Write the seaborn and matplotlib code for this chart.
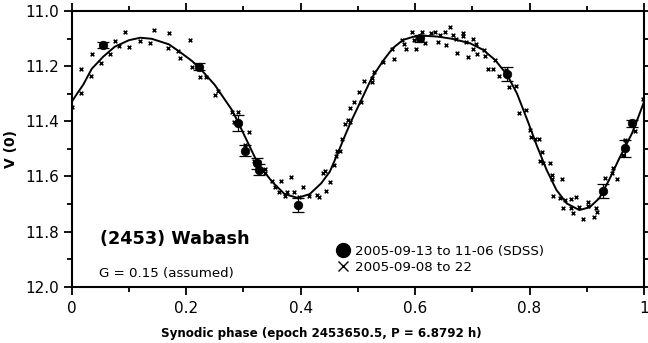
import matplotlib
matplotlib.use("Agg")
import matplotlib.pyplot as plt
from matplotlib.lines import Line2D
from matplotlib.ticker import MultipleLocator, FormatStrFormatter
import seaborn as sns
import pandas as pd

# Dense photometry, 2005-09-08 to 22 (phase, V)
phase_dense = [
    0.001, 0.017, 0.017, 0.034, 0.035, 0.051, 0.067, 0.076, 0.083, 0.094,
    0.101, 0.119, 0.136, 0.143, 0.170, 0.169, 0.185, 0.190, 0.207, 0.210,
    0.225, 0.235, 0.250, 0.256, 0.280, 0.291, 0.284, 0.303, 0.309, 0.319,
    0.328, 0.338, 0.337, 0.350, 0.365, 0.383, 0.356, 0.362, 0.372, 0.377,
    0.388, 0.398, 0.405, 0.414, 0.429, 0.433, 0.444, 0.451, 0.439, 0.442,
    0.458, 0.462, 0.469, 0.464, 0.472, 0.478, 0.487, 0.482, 0.487, 0.494,
    0.506, 0.502, 0.511, 0.524, 0.525, 0.528, 0.544, 0.564, 0.559, 0.578,
    0.580, 0.584, 0.595, 0.602, 0.599, 0.613, 0.617, 0.628, 0.634, 0.644,
    0.640, 0.652, 0.654, 0.661, 0.667, 0.672, 0.673, 0.683, 0.684, 0.689,
    0.692, 0.702, 0.702, 0.706, 0.709, 0.721, 0.722, 0.740, 0.728, 0.737,
    0.747, 0.759, 0.765, 0.776, 0.782, 0.794, 0.801, 0.803, 0.810, 0.816,
    0.822, 0.819, 0.823, 0.836, 0.839, 0.840, 0.856, 0.841, 0.853, 0.862,
    0.872, 0.882, 0.859, 0.872, 0.876, 0.887, 0.894, 0.903, 0.903, 0.913,
    0.916, 0.918, 0.932, 0.944, 0.945, 0.952, 0.964, 0.967, 0.985, 0.999,
]
v_dense = [
    11.347, 11.299, 11.211, 11.236, 11.157, 11.187, 11.156, 11.108, 11.128, 11.075,
    11.129, 11.108, 11.115, 11.069, 11.081, 11.135, 11.146, 11.169, 11.104, 11.203,
    11.238, 11.241, 11.305, 11.290, 11.368, 11.368, 11.404, 11.486, 11.438, 11.544,
    11.547, 11.573, 11.589, 11.617, 11.617, 11.601, 11.637, 11.655, 11.671, 11.655,
    11.658, 11.676, 11.637, 11.670, 11.667, 11.676, 11.652, 11.619, 11.589, 11.579,
    11.559, 11.526, 11.508, 11.508, 11.464, 11.410, 11.404, 11.395, 11.351, 11.329,
    11.329, 11.295, 11.254, 11.244, 11.256, 11.220, 11.184, 11.175, 11.138, 11.105,
    11.120, 11.138, 11.077, 11.139, 11.105, 11.075, 11.117, 11.081, 11.077, 11.087,
    11.114, 11.077, 11.123, 11.057, 11.087, 11.102, 11.154, 11.081, 11.091, 11.114,
    11.168, 11.102, 11.138, 11.120, 11.156, 11.141, 11.162, 11.178, 11.211, 11.211,
    11.236, 11.215, 11.277, 11.272, 11.369, 11.359, 11.430, 11.458, 11.465, 11.465,
    11.510, 11.544, 11.550, 11.553, 11.595, 11.609, 11.609, 11.671, 11.677, 11.686,
    11.682, 11.676, 11.716, 11.716, 11.732, 11.712, 11.754, 11.692, 11.707, 11.746,
    11.716, 11.728, 11.607, 11.589, 11.571, 11.609, 11.522, 11.468, 11.434, 11.319,
]

# SDSS points, 2005-09-13 to 11-06 (phase, V, error)
phase_sdss = [0.054, 0.223, 0.291, 0.302, 0.323, 0.328, 0.395, 0.609, 0.760, 0.929, 0.966, 0.979]
v_sdss = [11.123, 11.202, 11.407, 11.507, 11.552, 11.575, 11.704, 11.099, 11.229, 11.653, 11.498, 11.408]
err_sdss = [0.012, 0.012, 0.030, 0.020, 0.020, 0.020, 0.025, 0.012, 0.025, 0.025, 0.030, 0.012]

# Fourier fit curve (phase, V)
phase_fit = [
    0.000, 0.010, 0.020, 0.035, 0.055, 0.075, 0.100, 0.120, 0.140, 0.170,
    0.190, 0.210, 0.225, 0.250, 0.280, 0.290, 0.325, 0.350, 0.372, 0.395,
    0.416, 0.436, 0.451, 0.465, 0.478, 0.489, 0.506, 0.524, 0.544, 0.561,
    0.579, 0.596, 0.617, 0.640, 0.665, 0.696, 0.719, 0.740, 0.761, 0.778,
    0.797, 0.813, 0.830, 0.847, 0.865, 0.887, 0.905, 0.922, 0.939, 0.957,
    0.979, 0.990, 1.000,
]
v_fit = [
    11.330, 11.298, 11.268, 11.210, 11.166, 11.130, 11.106, 11.097, 11.101, 11.121,
    11.150, 11.181, 11.210, 11.268, 11.359, 11.400, 11.552, 11.619, 11.664, 11.678,
    11.664, 11.625, 11.583, 11.516, 11.450, 11.397, 11.323, 11.244, 11.181, 11.135,
    11.105, 11.094, 11.090, 11.093, 11.101, 11.117, 11.141, 11.178, 11.232, 11.299,
    11.400, 11.490, 11.577, 11.649, 11.698, 11.722, 11.712, 11.679, 11.613, 11.534,
    11.444, 11.385, 11.330,
]

dense = pd.DataFrame({"phase": phase_dense, "V": v_dense})
sdss = pd.DataFrame({"phase": phase_sdss, "V": v_sdss, "err": err_sdss})
fit = pd.DataFrame({"phase": phase_fit, "V": v_fit})

sns.set_theme(style="white")
plt.rcParams["font.family"] = ["DejaVu Sans"]
plt.rcParams.update({
    "axes.linewidth": 1.5,
    "text.color": "black",
    "axes.labelcolor": "black",
    "xtick.color": "black",
    "ytick.color": "black",
    "axes.edgecolor": "black",
})

fig = plt.figure(figsize=(6.48, 3.43), dpi=100)
ax = fig.add_axes([0.1106, 0.1641, 0.8832, 0.8039])

sns.lineplot(data=fit, x="phase", y="V", ax=ax, color="black", lw=1.4,
             sort=False, zorder=3)
sns.scatterplot(data=dense, x="phase", y="V", ax=ax, marker="x", s=7,
                color="black", linewidth=1.1, zorder=4)
ax.errorbar(sdss["phase"], sdss["V"], yerr=sdss["err"], fmt="none",
            ecolor="black", elinewidth=0.9, capsize=4, capthick=0.9, zorder=5)
sns.scatterplot(data=sdss, x="phase", y="V", ax=ax, marker="o", s=38,
                color="black", edgecolor="black", linewidth=0.5, zorder=6)

ax.set_xlim(0, 1)
ax.set_ylim(12.0, 11.0)
ax.xaxis.set_major_locator(MultipleLocator(0.2))
ax.xaxis.set_minor_locator(MultipleLocator(0.1))
ax.yaxis.set_major_locator(MultipleLocator(0.2))
ax.yaxis.set_minor_locator(MultipleLocator(0.1))
ax.xaxis.set_major_formatter(FormatStrFormatter("%g"))
ax.yaxis.set_major_formatter(FormatStrFormatter("%.1f"))

ax.tick_params(which="both", direction="out", top=True, right=True,
               bottom=True, left=True, color="black", width=1.3)
ax.tick_params(which="major", length=6, labelsize=11, pad=3)
ax.tick_params(which="minor", length=3.3)
ax.tick_params(axis="x", which="major", pad=4)

ax.set_xlabel("Synodic phase (epoch 2453650.5, P = 6.8792 h)",
              fontsize=8.6, fontweight="bold")
ax.xaxis.set_label_coords(0.437, -0.145)
ax.xaxis.label.set_va("top")
ax.set_ylabel("V (0)", fontsize=10, fontweight="bold")
ax.yaxis.set_label_coords(-0.094, 0.5)

ax.text(0.0495, 0.155, "(2453) Wabash", transform=ax.transAxes,
        fontsize=12.7, fontweight="bold", va="baseline", ha="left")
ax.text(0.0477, 0.034, "G = 0.15 (assumed)", transform=ax.transAxes,
        fontsize=9.6, va="baseline", ha="left")

handles = [
    Line2D([], [], ls="none", marker="o", ms=10, color="black"),
    Line2D([], [], ls="none", marker="x", ms=7, mew=1.0, color="black"),
]
labels = ["2005-09-13 to 11-06 (SDSS)", "2005-09-08 to 22"]
ax.legend(handles, labels, loc="center left", bbox_to_anchor=(0.462, 0.099),
          frameon=False, fontsize=9.6, handlelength=1.0, handletextpad=0.4,
          labelspacing=0.25, borderpad=0, borderaxespad=0, labelcolor="black")

fig.savefig("out.png", dpi=100)
